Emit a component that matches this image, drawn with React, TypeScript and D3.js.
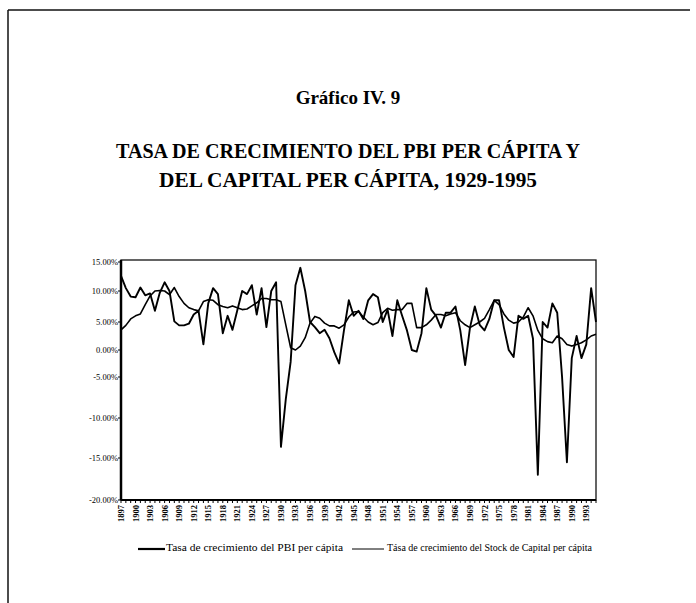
import React from "react";
import * as d3 from "d3";

const years: number[] = d3.range(1897, 1996);

// Tasa de crecimiento del PBI per cápita (%)
const pbi: number[] = [
  12.6, 10.5, 9.1, 9.0, 10.6, 9.3, 9.6, 6.8, 9.7, 11.5,
  10.0, 5.1, 4.4, 4.4, 4.7, 6.2, 6.8, 1.0, 8.0, 10.5,
  9.5, 3.0, 6.0, 3.6, 6.9, 10.0, 9.5, 11.0, 6.2, 10.5,
  4.1, 10.0, 11.5, -13.6, -7.7, -2.2, 11.0, 14.0, 10.0, 5.0,
  4.1, 3.0, 3.6, 2.1, -0.4, -2.5, 3.5, 8.5, 6.0, 6.8,
  5.5, 8.5, 9.5, 9.0, 5.0, 7.0, 2.5, 8.5, 6.0, 3.5,
  0.0, -0.3, 3.0, 10.5, 7.0, 6.0, 4.0, 6.5, 6.5, 7.5,
  3.5, -2.8, 4.0, 7.5, 4.5, 3.5, 5.5, 8.5, 8.5, 4.0,
  0.0, -1.3, 6.0, 5.5, 6.0, 2.0, -17.0, 5.0, 4.0, 8.0,
  6.5, -5.0, -15.5, -1.5, 2.5, -1.5, 1.0, 10.5, 5.0,
];

// Tasa de crecimiento del Stock de Capital per cápita (%)
const capital: number[] = [
  3.6, 4.4, 5.5, 6.0, 6.3, 7.8, 9.2, 10.0, 10.1, 10.0,
  9.4, 10.6, 9.1, 8.0, 7.3, 7.0, 6.8, 8.3, 8.6, 8.5,
  7.8, 7.5, 7.3, 7.6, 7.3, 7.0, 7.1, 7.6, 8.1, 8.8,
  8.8, 8.6, 8.6, 8.3, 4.5, 0.4, 0.0, 0.7, 2.2, 4.8,
  5.9, 5.6, 4.8, 4.3, 4.3, 3.9, 4.5, 5.8, 6.6, 6.7,
  5.8, 5.0, 4.5, 4.9, 6.5, 7.2, 6.9, 7.0, 7.0, 8.0,
  8.0, 4.0, 4.0, 4.5, 5.3, 6.2, 6.2, 6.0, 6.3, 6.5,
  5.2, 4.5, 4.0, 4.5, 5.0, 5.6, 7.0, 8.5, 7.8, 6.3,
  5.3, 4.8, 5.0, 5.8, 7.3, 6.0, 3.5, 2.0, 1.5, 1.3,
  2.5, 2.0, 1.0, 0.7, 1.0, 1.3, 1.8, 2.5, 2.8,
];

const yTicks: number[] = [15, 10, 5, 0, -5, -10, -15, -20];
const yTickLabels: string[] = ["15.00%", "10.00%", "5.00%", "0.00%", "-5.00%", "-10.00%", "-15.00%", "-20.00%"];
const xTickYears: number[] = d3.range(1897, 1994, 3);

const legendLabels: string[] = [
  "Tasa de crecimiento del PBI per cápita",
  "Tása de crecimiento del Stock de Capital per cápita",
];

export default function App() {
  const W = 696, H = 603;
  const left = 121, right = 596, top = 260, bottom = 500;

  const x = d3.scaleLinear().domain([1897, 1995]).range([left, right]);
  // scanned reference axis (label positions as printed)
  const y = d3.scaleLinear()
    .domain(yTicks)
    .range([262, 291, 322, 350, 377, 418, 458, 500]);

  const line = d3.line<number>()
    .x((_, i) => x(years[i]))
    .y((d) => y(d));

  const serif = "'Liberation Serif', 'Times New Roman', serif";

  return (
    <svg width={W} height={H} viewBox={`0 0 ${W} ${H}`}
      style={{ position: "absolute", left: 0, top: 0, background: "#fff" }}>
      <rect x={0} y={0} width={W} height={H} fill="#fff" />
      {/* page frame */}
      <line x1={8} y1={10} x2={690} y2={10} stroke="#111" strokeWidth={1.5} />
      <line x1={8} y1={10} x2={8} y2={603} stroke="#111" strokeWidth={1.5} />

      {/* titles */}
      <text x={348} y={104} textAnchor="middle" fontFamily={serif} fontWeight="bold" fontSize={19}>
        Gráfico IV. 9
      </text>
      <text x={348} y={158} textAnchor="middle" fontFamily={serif} fontWeight="bold" fontSize={22}
        textLength={464} lengthAdjust="spacingAndGlyphs">
        TASA DE CRECIMIENTO DEL PBI PER CÁPITA Y
      </text>
      <text x={348} y={187} textAnchor="middle" fontFamily={serif} fontWeight="bold" fontSize={22}
        textLength={378} lengthAdjust="spacingAndGlyphs">
        DEL CAPITAL PER CÁPITA, 1929-1995
      </text>

      {/* plot frame */}
      <rect x={left} y={top} width={right - left} height={bottom - top} fill="none" stroke="#111" strokeWidth={1.3} />
      <line x1={left} y1={top} x2={left} y2={bottom} stroke="#000" strokeWidth={2.5} />
      <line x1={left} y1={bottom} x2={right} y2={bottom} stroke="#000" strokeWidth={2} />

      {/* y ticks */}
      {yTicks.map((t, i) => (
        <g key={t}>
          <line x1={left - 3} x2={left} y1={y(t)} y2={y(t)} stroke="#000" strokeWidth={1} />
          <text x={left - 3} y={y(t) + 3} textAnchor="end" fontFamily={serif} fontSize={8.5}>
            {yTickLabels[i]}
          </text>
        </g>
      ))}

      {/* x minor ticks */}
      {years.map((yr) => (
        <line key={yr} x1={x(yr)} x2={x(yr)} y1={bottom} y2={bottom + 3} stroke="#000" strokeWidth={1} />
      ))}
      {xTickYears.map((yr) => (
        <text key={yr} transform={`translate(${x(yr) + 3},${bottom + 5}) rotate(-90)`}
          textAnchor="end" fontFamily={serif} fontWeight="bold" fontSize={8.5}>
          {yr}
        </text>
      ))}

      {/* series */}
      <path d={line(capital) || ""} fill="none" stroke="#000" strokeWidth={1.6} strokeLinejoin="round" />
      <path d={line(pbi) || ""} fill="none" stroke="#000" strokeWidth={1.9} strokeLinejoin="round" />

      {/* legend */}
      <line x1={138} x2={165} y1={549} y2={549} stroke="#000" strokeWidth={2.2} />
      <text x={166} y={551} fontFamily={serif} fontSize={10} textLength={177} lengthAdjust="spacingAndGlyphs">
        {legendLabels[0]}
      </text>
      <line x1={352} x2={384} y1={549} y2={549} stroke="#000" strokeWidth={1} />
      <text x={387} y={551} fontFamily={serif} fontSize={10} textLength={205} lengthAdjust="spacingAndGlyphs">
        {legendLabels[1]}
      </text>
    </svg>
  );
}
